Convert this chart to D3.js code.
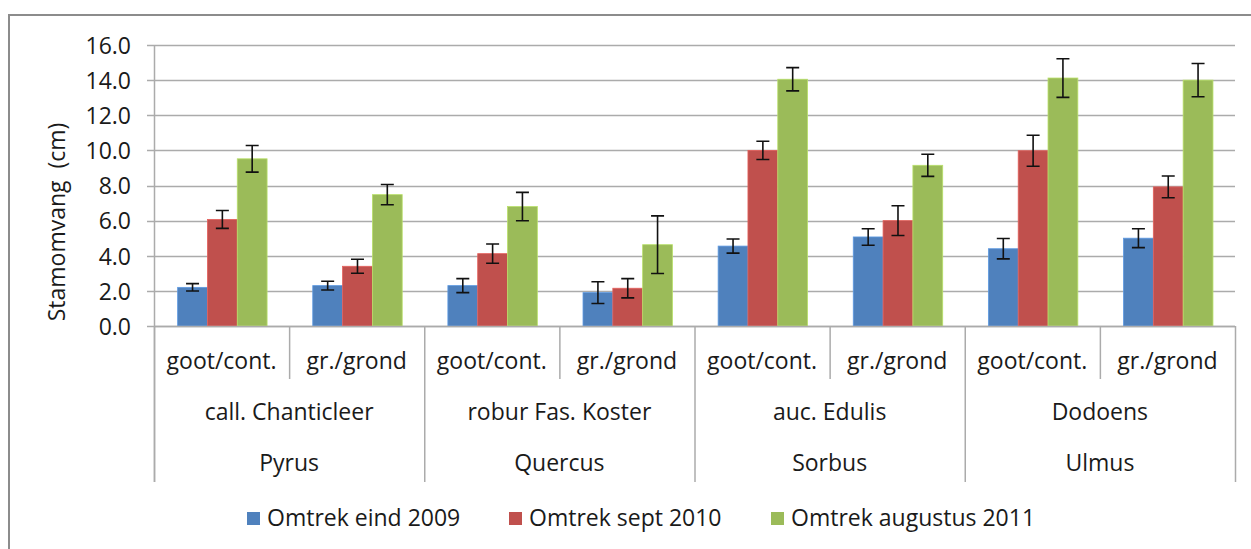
<!DOCTYPE html>
<html>
<head>
<meta charset="utf-8">
<script src="https://cdn.jsdelivr.net/npm/d3@7"></script>
<style>
  html, body { margin: 0; padding: 0; background: #fff; }
  svg { display: block; }
  text { font-family: "Open Sans", sans-serif; fill: #1a1a1a; }
</style>
</head>
<body>
<svg id="chart" width="1251" height="549"></svg>
<script>
// ---- data ----
const species = ["Pyrus", "Quercus", "Sorbus", "Ulmus"];
const cultivars = ["call. Chanticleer", "robur Fas. Koster", "auc. Edulis", "Dodoens"];
const treatments = ["goot/cont.", "gr./grond"];
const seriesNames = ["Omtrek eind 2009", "Omtrek sept 2010", "Omtrek augustus 2011"];
const seriesColors = ["#4F81BD", "#C0504D", "#9BBB59"];
// values per series, order: Pyrus goot, Pyrus gr, Quercus goot, Quercus gr, Sorbus goot, Sorbus gr, Ulmus goot, Ulmus gr
const values2009 = [2.2, 2.3, 2.3, 1.9, 4.55, 5.07, 4.4, 5.0];
const values2010 = [6.07, 3.4, 4.12, 2.15, 10.0, 6.0, 9.98, 7.92];
const values2011 = [9.52, 7.48, 6.8, 4.63, 14.05, 9.15, 14.12, 14.0];
const err2009 = [0.21, 0.25, 0.4, 0.62, 0.4, 0.47, 0.58, 0.54];
const err2010 = [0.51, 0.4, 0.55, 0.55, 0.52, 0.85, 0.88, 0.62];
const err2011 = [0.76, 0.58, 0.81, 1.64, 0.66, 0.63, 1.1, 0.95];
const yTicks = [0, 2, 4, 6, 8, 10, 12, 14, 16];
const yTitle = "Stamomvang  (cm)";

const values = [values2009, values2010, values2011];
const errors = [err2009, err2010, err2011];

// ---- layout ----
const svg = d3.select("#chart");
const plotLeft = 154, plotRight = 1235, plotTop = 45, plotBottom = 326;
const gridColor = "#ababab";
const fs = 23;

const cats = d3.range(8);
const x0 = d3.scaleBand().domain(cats).range([plotLeft, plotRight]).paddingInner(0).paddingOuter(0);
const bw = x0.bandwidth();
const groupW = bw * 0.662;
const x1 = d3.scaleBand().domain(d3.range(3)).range([(bw - groupW) / 2 + 0.8, (bw + groupW) / 2 + 0.8]).padding(0);
const y = d3.scaleLinear().domain([0, 16]).range([plotBottom, plotTop]);

// outer border (top & left visible)
svg.append("path")
  .attr("d", `M9,549 L9,15 L1251,15`)
  .attr("fill", "none").attr("stroke", "#8c8c8c").attr("stroke-width", 2);

// gridlines
svg.append("g").selectAll("line").data(yTicks).join("line")
  .attr("x1", plotLeft - 7).attr("x2", plotRight)
  .attr("y1", d => Math.round(y(d)) + 0.5).attr("y2", d => Math.round(y(d)) + 0.5)
  .attr("stroke", gridColor).attr("stroke-width", 1.5);

// y axis via d3 axis (labels only)
const yAxis = d3.axisLeft(y).tickValues(yTicks).tickFormat(d3.format(".1f")).tickSize(0).tickPadding(0);
const ya = svg.append("g").attr("transform", `translate(131,0)`).call(yAxis);
ya.select(".domain").remove();
ya.selectAll("text").style("font-family", "'Open Sans', sans-serif").style("font-size", fs + "px").attr("fill", "#1a1a1a").attr("dy", "0.36em");

// y axis line
svg.append("line").attr("x1", plotLeft + 0.5).attr("x2", plotLeft + 0.5)
  .attr("y1", plotTop).attr("y2", 482).attr("stroke", gridColor).attr("stroke-width", 1.5);

// y title
svg.append("text")
  .attr("transform", `translate(65,222) rotate(-90)`)
  .attr("text-anchor", "middle")
  .style("font-size", fs + "px")
  .style("white-space", "pre")
  .attr("xml:space", "preserve")
  .text(yTitle);

// bars
const barG = svg.append("g");
values.forEach((vals, s) => {
  barG.selectAll(null).data(vals).join("rect")
    .attr("x", (d, i) => x0(i) + x1(s))
    .attr("width", x1.bandwidth())
    .attr("y", d => y(d))
    .attr("height", d => y(0) - y(d))
    .attr("fill", seriesColors[s])
    .attr("stroke", d3.color(seriesColors[s]).brighter(0.5))
    .attr("stroke-width", 0.8);
});

// error bars
const errG = svg.append("g").attr("stroke", "#111").attr("stroke-width", 1.6).attr("fill", "none");
values.forEach((vals, s) => {
  vals.forEach((v, i) => {
    const cx = x0(i) + x1(s) + x1.bandwidth() / 2;
    const e = errors[s][i];
    const yt = y(v + e), yb = y(v - e);
    errG.append("path").attr("d", `M${cx},${yt} L${cx},${yb} M${cx - 6.5},${yt} L${cx + 6.5},${yt} M${cx - 6.5},${yb} L${cx + 6.5},${yb}`);
  });
});

// x axis line
svg.append("line").attr("x1", plotLeft).attr("x2", plotRight)
  .attr("y1", plotBottom + 0.5).attr("y2", plotBottom + 0.5)
  .attr("stroke", gridColor).attr("stroke-width", 1.5);

// category separators
const sepG = svg.append("g").attr("stroke", gridColor).attr("stroke-width", 1.5);
for (let i = 0; i <= 8; i++) {
  const xx = (i < 8 ? x0(i) : plotRight);
  const full = (i % 2 === 0);
  sepG.append("line").attr("x1", xx + 0.5).attr("x2", xx + 0.5)
    .attr("y1", plotBottom).attr("y2", full ? 482 : 379);
}

// level 1 labels
svg.append("g").selectAll("text").data(cats).join("text")
  .attr("x", i => x0(i) + bw / 2)
  .attr("y", 361).attr("dy", "0.36em")
  .attr("text-anchor", "middle").style("font-size", fs + "px")
  .text(i => treatments[i % 2]);

// level 2 labels
svg.append("g").selectAll("text").data(cultivars).join("text")
  .attr("x", (d, i) => x0(i * 2) + bw)
  .attr("y", 412).attr("dy", "0.36em")
  .attr("text-anchor", "middle").style("font-size", fs + "px")
  .text(d => d);

// level 3 labels
svg.append("g").selectAll("text").data(species).join("text")
  .attr("x", (d, i) => x0(i * 2) + bw)
  .attr("y", 463).attr("dy", "0.36em")
  .attr("text-anchor", "middle").style("font-size", fs + "px")
  .text(d => d);

// legend
const legendStarts = [247, 509, 771];
const lg = svg.append("g");
seriesNames.forEach((name, s) => {
  const lx = legendStarts[s];
  lg.append("rect").attr("x", lx).attr("y", 512).attr("width", 13).attr("height", 13)
    .attr("fill", seriesColors[s]);
  lg.append("text").attr("x", lx + 20).attr("y", 518).attr("dy", "0.36em")
    .style("font-size", fs + "px").text(name);
});
</script>
</body>
</html>
